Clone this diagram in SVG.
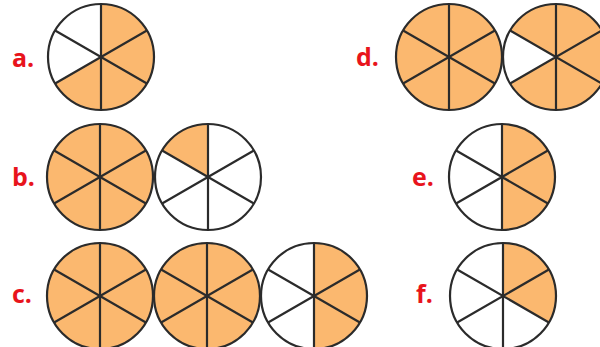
<svg xmlns="http://www.w3.org/2000/svg" xmlns:xlink="http://www.w3.org/1999/xlink" width="600" height="347" viewBox="0 0 600 347">
<style>
.lbl{font-family:"Open Sans","Liberation Sans",sans-serif;font-weight:bold;font-size:25px;fill:#E8141C}
.s{fill:#FBB86F;stroke:none}
.w{fill:none;stroke:#2b2b2b;stroke-width:2.2}
</style>
<defs>
<path id="tr" d="M0,0 L0,-53 A53,53 0 0 1 45.9,-26.5 Z"/>
<path id="r" d="M0,0 L45.9,-26.5 A53,53 0 0 1 45.9,26.5 Z"/>
<path id="br" d="M0,0 L45.9,26.5 A53,53 0 0 1 0,53 Z"/>
<path id="bl" d="M0,0 L0,53 A53,53 0 0 1 -45.9,26.5 Z"/>
<path id="l" d="M0,0 L-45.9,26.5 A53,53 0 0 1 -45.9,-26.5 Z"/>
<path id="tl" d="M0,0 L-45.9,-26.5 A53,53 0 0 1 0,-53 Z"/>
<g id="wheel" class="w">
<circle cx="0" cy="0" r="53"/>
<path d="M0,-53 L0,53 M-45.9,-26.5 L45.9,26.5 M-45.9,26.5 L45.9,-26.5"/>
</g>
</defs>
<rect width="600" height="347" fill="#fff"/>
<g id="a">
<text class="lbl" x="12" y="67">a.</text>
<g transform="translate(101,57)"><g class="s"><use href="#tr"/><use href="#r"/><use href="#br"/><use href="#bl"/></g><use href="#wheel"/></g>
</g>
<g id="d">
<text class="lbl" x="356" y="66">d.</text>
<g transform="translate(449,57)"><circle class="s" r="53"/><use href="#wheel"/></g>
<g transform="translate(556,57)"><g class="s"><use href="#tr"/><use href="#r"/><use href="#br"/><use href="#bl"/><use href="#tl"/></g><use href="#wheel"/></g>
</g>
<g id="b">
<text class="lbl" x="12" y="186">b.</text>
<g transform="translate(100,177)"><circle class="s" r="53"/><use href="#wheel"/></g>
<g transform="translate(208,177)"><g class="s"><use href="#tl"/></g><use href="#wheel"/></g>
</g>
<g id="e">
<text class="lbl" x="412" y="186">e.</text>
<g transform="translate(502,177)"><g class="s"><use href="#tr"/><use href="#r"/><use href="#br"/></g><use href="#wheel"/></g>
</g>
<g id="c">
<text class="lbl" x="12" y="303">c.</text>
<g transform="translate(100,296)"><circle class="s" r="53"/><use href="#wheel"/></g>
<g transform="translate(207,296)"><circle class="s" r="53"/><use href="#wheel"/></g>
<g transform="translate(314,296)"><g class="s"><use href="#tr"/><use href="#r"/><use href="#br"/></g><use href="#wheel"/></g>
</g>
<g id="f">
<text class="lbl" x="416" y="303">f.</text>
<g transform="translate(503,296)"><g class="s"><use href="#tr"/><use href="#r"/></g><use href="#wheel"/></g>
</g>
<g id="connectors"/>
</svg>
